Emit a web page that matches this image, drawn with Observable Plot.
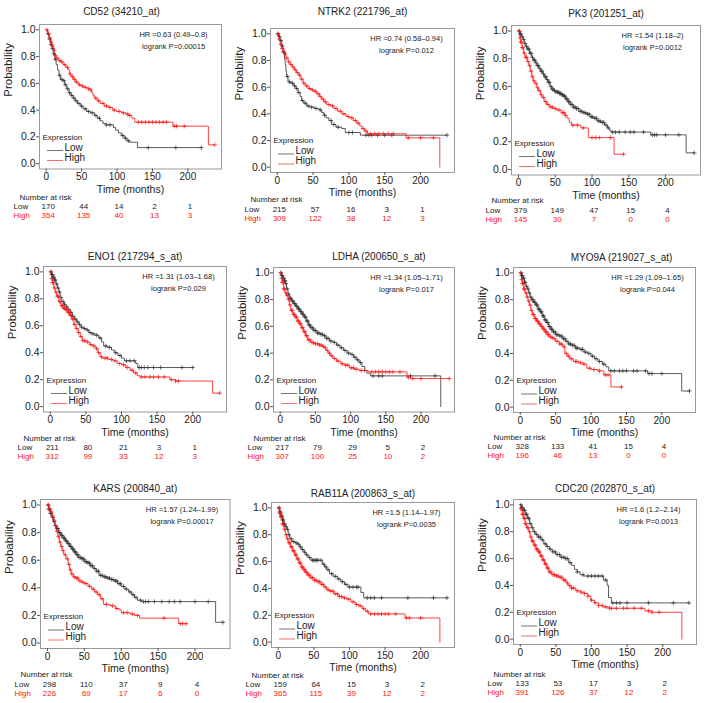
<!DOCTYPE html>
<html>
<head>
<meta charset="utf-8">
<script src="https://cdn.jsdelivr.net/npm/d3@7"></script>
<script src="https://cdn.jsdelivr.net/npm/@observablehq/plot@0.6"></script>
<style>
  html, body { margin: 0; padding: 0; background: #fff; }
  #wrap { position: relative; width: 704px; height: 703px; overflow: hidden; background: #fff; }
  .panel { position: absolute; }
</style>
</head>
<body>
<div id="wrap"></div>
<script>
// ---------- DATA ----------
const genes = ["CD52 (34210_at)", "NTRK2 (221796_at)", "PK3 (201251_at)",
               "ENO1 (217294_s_at)", "LDHA (200650_s_at)", "MYO9A (219027_s_at)",
               "KARS (200840_at)", "RAB11A (200863_s_at)", "CDC20 (202870_s_at)"];
const hrTexts = ["HR =0.63 (0.49–0.8)", "HR =0.74 (0.58–0.94)", "HR =1.54 (1.18–2)",
                 "HR =1.31 (1.03–1.68)", "HR =1.34 (1.05–1.71)", "HR =1.29 (1.09–1.65)",
                 "HR =1.57 (1.24–1.99)", "HR =1.5 (1.14–1.97)", "HR =1.6 (1.2–2.14)"];
const pTexts = ["logrank P=0.00015", "logrank P=0.012", "logrank P=0.0012",
                "logrank P=0.029", "logrank P=0.017", "logrank P=0.044",
                "logrank P=0.00017", "logrank P=0.0035", "logrank P=0.0013"];
const riskTimes = [0, 50, 100, 150, 200];
const xTicks = [0, 50, 100, 150, 200];
const yTicks = [0, 0.2, 0.4, 0.6, 0.8, 1.0];

const riskLow = [[170,44,14,2,1],[215,57,16,3,1],[379,149,47,15,4],
                 [211,80,21,3,1],[217,79,29,5,2],[328,133,41,15,4],
                 [298,110,37,9,4],[159,64,15,3,2],[133,53,17,3,2]];
const riskHigh = [[354,135,40,13,3],[309,122,38,12,3],[145,30,7,0,0],
                  [312,99,33,12,3],[307,100,25,10,2],[196,46,13,0,0],
                  [226,69,17,6,0],[365,115,39,12,2],[391,126,37,12,2]];

// Kaplan–Meier steps: [time (months), survival after step]
const cd52Low = [[0,1],[2,0.97],[4,0.93],[6,0.89],[8,0.86],[10,0.82],[12,0.78],[14,0.74],[16,0.70],[18,0.66],[20,0.63],[23,0.62],[26,0.59],[29,0.56],[32,0.53],[35,0.51],[38,0.49],[41,0.47],[44,0.45],[48,0.43],[52,0.41],[57,0.39],[62,0.38],[68,0.36],[72,0.34],[76,0.32],[80,0.30],[84,0.29],[95,0.27],[98,0.25],[102,0.23],[106,0.21],[110,0.19],[114,0.17],[118,0.16],[129,0.12],[219,0.12]];
const cd52LowCens = [3,5,7,9,11,13,19,22,25,27,30,33,36,39,42,46,50,55,60,65,70,75,85,90,108,112,116,144,183,219];
const cd52High = [[0,1],[2,0.97],[4,0.94],[6,0.91],[8,0.88],[10,0.85],[12,0.81],[14,0.79],[17,0.77],[21,0.76],[24,0.74],[28,0.72],[31,0.70],[33,0.67],[35,0.65],[38,0.63],[41,0.61],[45,0.59],[49,0.58],[53,0.57],[58,0.56],[62,0.55],[64,0.53],[66,0.51],[68,0.49],[72,0.47],[76,0.45],[82,0.43],[88,0.42],[94,0.40],[99,0.39],[106,0.38],[112,0.37],[116,0.36],[121,0.34],[125,0.31],[179,0.28],[229,0.14],[238,0.14]];
const cd52HighCens = [1,3,5,7,9,11,13,15,19,22,26,30,34,37,40,43,47,51,55,60,63,70,74,80,85,90,96,103,109,115,118,130,135,140,145,150,155,160,165,170,181,184,195,238];

const ntrk2Low = [[0,1],[2,0.98],[4,0.95],[6,0.91],[8,0.86],[10,0.81],[11,0.77],[12,0.72],[13,0.68],[15,0.64],[19,0.63],[23,0.61],[26,0.59],[29,0.56],[32,0.53],[34,0.50],[37,0.48],[41,0.46],[45,0.45],[52,0.44],[58,0.43],[62,0.41],[65,0.39],[68,0.37],[72,0.35],[76,0.32],[82,0.30],[90,0.29],[95,0.26],[116,0.24],[237,0.24]];
const ntrk2LowCens = [1,3,5,7,9,14,17,21,24,27,30,35,39,43,48,54,60,66,75,79,85,100,105,124,128,132,140,150,160,237];
const ntrk2High = [[0,1],[2,0.96],[4,0.92],[6,0.89],[8,0.87],[10,0.85],[12,0.82],[15,0.79],[18,0.77],[21,0.75],[24,0.73],[27,0.71],[30,0.69],[33,0.66],[36,0.63],[39,0.61],[43,0.59],[47,0.58],[51,0.57],[55,0.55],[59,0.53],[62,0.51],[65,0.49],[69,0.47],[74,0.46],[79,0.44],[84,0.42],[90,0.40],[96,0.38],[101,0.37],[106,0.35],[111,0.33],[115,0.31],[118,0.29],[122,0.27],[126,0.25],[180,0.22],[227,0]];
const ntrk2HighCens = [1,3,5,7,9,11,13,16,19,22,25,28,31,34,37,41,45,49,53,57,60,64,67,72,77,82,88,93,99,104,109,113,120,124,130,136,142,148,155,162,183,200,218];

const pk3Low = [[0,1],[2,0.98],[4,0.96],[6,0.94],[8,0.91],[10,0.89],[12,0.87],[15,0.84],[18,0.81],[20,0.79],[23,0.77],[25,0.75],[28,0.73],[30,0.71],[33,0.69],[35,0.67],[38,0.65],[40,0.63],[43,0.60],[45,0.58],[48,0.57],[50,0.56],[55,0.55],[58,0.54],[61,0.53],[64,0.51],[67,0.49],[70,0.47],[74,0.45],[78,0.44],[82,0.42],[87,0.41],[92,0.40],[97,0.38],[102,0.37],[107,0.35],[112,0.34],[117,0.32],[121,0.30],[124,0.28],[126,0.27],[180,0.25],[228,0.12],[239,0.12]];
const pk3LowCens = [1,2,3,5,7,9,11,13,14,16,17,19,21,22,24,26,27,29,31,32,34,36,37,39,41,42,44,46,47,49,51,53,54,56,57,59,60,62,63,65,66,68,69,71,73,75,77,79,81,84,86,89,91,94,96,99,101,104,106,109,111,114,116,119,122,128,132,137,145,152,157,170,182,185,188,200,218,239];
const pk3High = [[0,1],[2,0.95],[3,0.92],[5,0.88],[7,0.84],[9,0.81],[12,0.78],[14,0.75],[16,0.71],[18,0.67],[20,0.64],[22,0.62],[25,0.59],[27,0.57],[30,0.54],[32,0.52],[35,0.49],[38,0.47],[42,0.45],[47,0.44],[52,0.43],[58,0.41],[63,0.39],[66,0.37],[69,0.34],[72,0.32],[85,0.30],[95,0.23],[130,0.11],[143,0.11]];
const pk3HighCens = [1,2,3,4,5,6,8,10,11,13,15,17,19,21,24,26,28,31,34,37,40,44,46,50,55,60,62,64,74,80,88,100,105,110,125,143];

const eno1Low = [[0,1],[2,0.98],[4,0.96],[6,0.94],[8,0.91],[10,0.88],[12,0.85],[14,0.81],[16,0.78],[19,0.76],[22,0.74],[25,0.72],[28,0.70],[31,0.67],[34,0.65],[37,0.63],[40,0.61],[43,0.59],[46,0.58],[50,0.57],[54,0.55],[58,0.54],[63,0.53],[68,0.51],[72,0.48],[75,0.45],[80,0.44],[86,0.42],[90,0.40],[95,0.38],[100,0.36],[104,0.34],[120,0.32],[123,0.29],[200,0.29]];
const eno1LowCens = [1,2,3,4,5,6,7,9,11,13,15,18,20,23,26,29,32,35,38,41,44,48,52,56,60,65,70,78,83,92,98,107,112,118,125,128,132,137,145,155,185,200];
const eno1High = [[0,1],[2,0.95],[3,0.92],[5,0.88],[7,0.85],[9,0.82],[12,0.78],[15,0.75],[18,0.73],[21,0.72],[24,0.70],[27,0.68],[30,0.65],[33,0.61],[36,0.58],[39,0.55],[42,0.52],[45,0.49],[50,0.48],[55,0.46],[60,0.45],[64,0.43],[67,0.40],[70,0.37],[73,0.36],[82,0.35],[88,0.34],[94,0.32],[100,0.31],[106,0.29],[112,0.27],[117,0.25],[122,0.23],[126,0.22],[168,0.20],[176,0.19],[228,0.10],[238,0.10]];
const eno1HighCens = [1,2,3,4,6,8,10,11,13,14,16,17,19,20,22,23,25,26,28,29,31,34,37,40,43,46,48,52,57,61,65,68,72,77,80,86,91,97,103,108,115,120,128,133,140,145,152,160,170,176,180,238];

const ldhaLow = [[0,1],[2,0.98],[4,0.96],[6,0.94],[8,0.92],[9,0.88],[11,0.84],[13,0.81],[16,0.79],[19,0.77],[22,0.75],[25,0.73],[28,0.71],[31,0.69],[34,0.67],[37,0.64],[40,0.61],[43,0.59],[47,0.57],[52,0.55],[57,0.54],[61,0.53],[65,0.51],[70,0.49],[75,0.48],[80,0.46],[85,0.44],[90,0.42],[95,0.40],[100,0.39],[104,0.37],[108,0.35],[112,0.33],[116,0.30],[120,0.27],[123,0.25],[128,0.23],[228,0]];
const ldhaLowCens = [1,2,3,4,5,6,7,8,10,12,14,15,17,18,20,21,23,24,26,27,29,30,32,33,35,36,38,39,41,42,44,46,48,50,53,55,58,60,63,66,68,72,77,82,87,92,97,102,106,110,114,132,140,145,185,220];
const ldhaHigh = [[0,1],[2,0.96],[3,0.93],[5,0.88],[7,0.85],[9,0.83],[11,0.80],[13,0.76],[15,0.72],[18,0.69],[21,0.67],[24,0.64],[27,0.62],[30,0.59],[33,0.56],[36,0.53],[39,0.50],[43,0.48],[48,0.47],[55,0.46],[60,0.45],[63,0.44],[65,0.42],[68,0.40],[71,0.38],[75,0.36],[80,0.34],[86,0.32],[92,0.31],[98,0.29],[105,0.28],[112,0.27],[125,0.26],[180,0.22],[185,0.21],[240,0.21]];
const ldhaHighCens = [1,2,3,4,5,6,8,10,12,14,16,17,19,20,22,23,25,26,28,29,31,32,34,35,37,38,40,42,45,47,50,53,56,58,61,64,67,70,73,77,82,88,93,96,101,104,108,115,120,130,135,140,145,150,155,160,170,182,188,200,240];

const myo9aLow = [[0,1],[2,0.98],[4,0.96],[6,0.93],[8,0.90],[10,0.88],[12,0.85],[14,0.82],[16,0.80],[19,0.78],[22,0.76],[25,0.73],[28,0.71],[31,0.68],[34,0.65],[37,0.63],[40,0.60],[43,0.58],[46,0.56],[50,0.54],[55,0.53],[60,0.51],[64,0.49],[68,0.47],[73,0.46],[78,0.44],[84,0.43],[90,0.41],[95,0.40],[100,0.38],[105,0.36],[110,0.34],[116,0.32],[121,0.30],[125,0.27],[180,0.25],[228,0.12],[239,0.12]];
const myo9aLowCens = [1,2,3,4,5,6,7,9,11,13,15,17,18,20,21,23,24,26,27,29,30,32,33,35,36,38,39,41,42,44,45,47,49,51,53,56,58,61,63,66,69,71,74,76,79,81,86,88,92,97,102,107,112,118,128,133,140,145,150,160,165,177,182,186,200,239];
const myo9aHigh = [[0,1],[2,0.95],[3,0.92],[5,0.88],[7,0.85],[9,0.82],[11,0.79],[13,0.76],[15,0.72],[17,0.69],[20,0.66],[23,0.64],[26,0.62],[29,0.60],[32,0.58],[35,0.56],[38,0.54],[42,0.52],[46,0.51],[50,0.49],[55,0.47],[60,0.45],[63,0.40],[66,0.38],[70,0.36],[75,0.34],[82,0.33],[88,0.32],[94,0.29],[100,0.28],[110,0.27],[118,0.24],[128,0.15],[143,0.15]];
const myo9aHighCens = [1,2,3,4,5,6,8,10,12,14,16,18,19,21,22,24,25,27,28,30,31,33,34,36,37,39,40,43,45,48,52,56,58,62,65,68,72,78,80,85,90,98,104,112,120,124,143];

const karsLow = [[0,1],[2,0.97],[4,0.94],[6,0.91],[8,0.88],[10,0.85],[12,0.83],[15,0.80],[18,0.78],[21,0.76],[24,0.74],[27,0.72],[30,0.70],[33,0.68],[36,0.66],[39,0.64],[42,0.62],[46,0.61],[50,0.59],[54,0.58],[58,0.56],[62,0.54],[66,0.52],[70,0.49],[75,0.48],[80,0.47],[85,0.46],[90,0.45],[95,0.43],[100,0.41],[105,0.39],[110,0.37],[114,0.35],[118,0.33],[122,0.31],[128,0.30],[228,0.15],[238,0.15]];
const karsLowCens = [1,2,3,4,5,7,9,11,13,14,16,17,19,20,22,23,25,26,28,29,31,32,34,35,37,38,40,41,43,45,47,49,51,53,55,57,59,61,64,67,69,72,74,77,79,82,84,87,89,92,94,97,99,103,107,112,116,120,126,130,133,137,145,155,165,172,180,200,218,238];
const karsHigh = [[0,1],[2,0.97],[4,0.95],[6,0.92],[8,0.89],[10,0.85],[12,0.81],[14,0.77],[16,0.73],[18,0.70],[20,0.67],[22,0.64],[25,0.61],[28,0.57],[30,0.53],[32,0.50],[35,0.48],[38,0.47],[42,0.45],[46,0.44],[50,0.43],[55,0.41],[60,0.39],[64,0.37],[68,0.35],[72,0.32],[76,0.28],[85,0.27],[92,0.25],[97,0.24],[100,0.22],[112,0.21],[118,0.20],[125,0.18],[178,0.14],[188,0.14]];
const karsHighCens = [1,2,3,5,7,9,11,13,15,17,19,21,24,27,29,31,33,36,39,41,44,48,52,57,62,66,70,74,80,88,94,103,108,115,122,158,180,183,188];

const rab11aLow = [[0,1],[2,0.97],[4,0.94],[6,0.91],[8,0.88],[10,0.86],[12,0.84],[14,0.80],[16,0.77],[19,0.75],[23,0.74],[27,0.73],[30,0.71],[33,0.69],[36,0.67],[39,0.65],[42,0.63],[46,0.61],[58,0.61],[62,0.58],[65,0.56],[68,0.54],[72,0.51],[77,0.49],[83,0.47],[88,0.45],[93,0.43],[98,0.41],[116,0.37],[120,0.33],[237,0.33]];
const rab11aLowCens = [1,2,3,4,5,6,7,8,9,11,13,15,18,21,25,28,31,34,37,40,44,48,50,52,54,56,60,64,67,70,75,80,85,90,95,100,105,110,112,125,130,135,145,182,218,237];
const rab11aHigh = [[0,1],[2,0.96],[4,0.93],[6,0.88],[8,0.84],[10,0.80],[12,0.77],[14,0.74],[17,0.71],[20,0.68],[23,0.65],[26,0.62],[29,0.59],[32,0.56],[35,0.54],[38,0.52],[41,0.50],[45,0.48],[50,0.46],[55,0.45],[60,0.43],[64,0.41],[68,0.39],[72,0.38],[78,0.36],[84,0.34],[90,0.33],[96,0.32],[102,0.30],[108,0.28],[113,0.27],[118,0.25],[122,0.23],[127,0.21],[178,0.18],[227,0]];
const rab11aHighCens = [1,2,3,4,5,6,7,9,11,13,15,16,18,19,21,22,24,25,27,28,30,31,33,34,36,37,39,40,42,44,46,48,51,53,56,58,61,63,66,70,74,77,80,83,86,89,93,99,105,110,115,120,125,130,135,140,145,150,155,165,180,184,200];

const cdc20Low = [[0,1],[2,0.98],[4,0.96],[7,0.93],[10,0.90],[13,0.86],[16,0.83],[18,0.80],[21,0.78],[25,0.76],[29,0.74],[33,0.71],[37,0.69],[41,0.67],[45,0.65],[50,0.63],[56,0.61],[63,0.60],[68,0.57],[72,0.55],[76,0.52],[80,0.50],[84,0.48],[89,0.47],[117,0.44],[122,0.40],[124,0.31],[128,0.27],[237,0.27]];
const cdc20LowCens = [1,2,3,5,6,8,9,11,12,14,17,20,23,26,28,31,35,38,42,46,49,52,55,58,61,64,66,70,80,88,95,100,105,110,115,120,130,135,140,150,180,215,237];
const cdc20High = [[0,1],[1,0.97],[3,0.93],[5,0.90],[7,0.86],[9,0.83],[12,0.80],[14,0.76],[16,0.73],[19,0.70],[22,0.67],[25,0.65],[28,0.62],[31,0.59],[34,0.56],[37,0.53],[40,0.50],[44,0.48],[50,0.47],[55,0.46],[60,0.44],[64,0.42],[67,0.40],[71,0.38],[78,0.36],[85,0.35],[90,0.34],[95,0.32],[99,0.29],[104,0.27],[110,0.25],[116,0.24],[125,0.23],[175,0.21],[185,0.20],[227,0]];
const cdc20HighCens = [1,2,3,4,5,6,7,8,10,11,13,15,17,18,20,21,23,24,26,27,29,30,32,33,35,36,38,39,41,43,46,48,51,53,56,58,61,63,66,69,72,75,80,85,90,95,100,105,110,115,120,125,128,135,145,150,160,170,180,185,195];

const lowCurves = [cd52Low, ntrk2Low, pk3Low, eno1Low, ldhaLow, myo9aLow, karsLow, rab11aLow, cdc20Low];
const lowCens = [cd52LowCens, ntrk2LowCens, pk3LowCens, eno1LowCens, ldhaLowCens, myo9aLowCens, karsLowCens, rab11aLowCens, cdc20LowCens];
const highCurves = [cd52High, ntrk2High, pk3High, eno1High, ldhaHigh, myo9aHigh, karsHigh, rab11aHigh, cdc20High];
const highCens = [cd52HighCens, ntrk2HighCens, pk3HighCens, eno1HighCens, ldhaHighCens, myo9aHighCens, karsHighCens, rab11aHighCens, cdc20HighCens];

// ---------- LAYOUT (frame boxes in page pixels) ----------
const layout = [
  {L:39, R:221, T:24, B:168.5, tDx:-9, tDy:17, rDy:30.5},
  {L:270, R:454, T:28, B:172, tDx:0, tDy:20.5, rDy:29.7},
  {L:511, R:700, T:24.5, B:174, tDx:0, tDy:16, rDy:28.3},
  {L:43, R:226, T:266, B:411.5, tDx:0, tDy:14, rDy:28.5},
  {L:273, R:454, T:267, B:411.5, tDx:15, tDy:14.7, rDy:28.5},
  {L:513, R:695, T:267, B:412, tDx:17, tDy:13.7, rDy:27},
  {L:39.5, R:229, T:499, B:648, tDx:0, tDy:15, rDy:28.7},
  {L:271, R:454, T:501.5, B:646.5, tDx:0, tDy:13, rDy:30},
  {L:513, R:696, T:499, B:644, tDx:0, tDy:15, rDy:32}
];

const RED = "#ff1414";
const DARK = "#333333";
const FONT = "'Liberation Sans', Arial, Helvetica, sans-serif";

const plusSym = { draw(ctx) { const r = 2.2; ctx.moveTo(-r, 0); ctx.lineTo(r, 0); ctx.moveTo(0, -r); ctx.lineTo(0, r); } };
const hline = { draw(ctx) { ctx.moveTo(-8, 0); ctx.lineTo(8, 0); } };

function stepValue(curve, t) {
  let s = 1;
  for (const [ti, si] of curve) if (ti <= t) s = si;
  return s;
}

const wrap = document.getElementById("wrap");
const mL = 45, mT = 26, mR = 4, mB = 60;

genes.forEach((gene, i) => {
  const lay = layout[i];
  const w = lay.R - lay.L, h = lay.B - lay.T;
  const low = lowCurves[i], high = highCurves[i];
  const lowC = lowCens[i].map(t => [t, stepValue(low, t)]);
  const highC = highCens[i].map(t => [t, stepValue(high, t)]);
  const lowRisk = riskTimes.map((t, j) => ({t, v: riskLow[i][j]}));
  const highRisk = riskTimes.map((t, j) => ({t, v: riskHigh[i][j]}));

  const plot = Plot.plot({
    width: w + mL + mR,
    height: h + mT + mB,
    marginLeft: mL, marginRight: mR, marginTop: mT, marginBottom: mB,
    style: {fontFamily: FONT, fontSize: "10px", color: "#222", background: "transparent", overflow: "visible"},
    x: {domain: [-9.5, 247.5]},
    y: {domain: [-0.04, 1.04]},
    marks: [
      Plot.frame({stroke: "#999", strokeWidth: 1}),
      Plot.axisX({ticks: xTicks, tickSize: 3, tickPadding: 1, label: null, stroke: "#555", fill: "#222", fontSize: 10}),
      Plot.axisY({ticks: yTicks, tickFormat: d3.format(".1f"), tickSize: 3, tickPadding: 1, label: null, stroke: "#555", fill: "#222", fontSize: 10.5}),
      // curves
      Plot.line(low, {x: d => d[0], y: d => d[1], curve: "step-after", stroke: DARK, strokeWidth: 0.8}),
      Plot.line(high, {x: d => d[0], y: d => d[1], curve: "step-after", stroke: RED, strokeWidth: 0.8}),
      Plot.dot(lowC, {x: d => d[0], y: d => d[1], symbol: plusSym, stroke: DARK, fill: "none", strokeWidth: 0.7}),
      Plot.dot(highC, {x: d => d[0], y: d => d[1], symbol: plusSym, stroke: RED, fill: "none", strokeWidth: 0.7}),
      // title
      Plot.text([gene], {text: d => d, frameAnchor: "top", dx: lay.tDx, dy: -lay.tDy, fontSize: 10, fill: "#222"}),
      // HR text
      Plot.text([hrTexts[i]], {text: d => d, frameAnchor: "top-right", dx: -48, dy: 7.5, textAnchor: "middle", fontSize: 7.5, fill: "#222"}),
      Plot.text([pTexts[i]], {text: d => d, frameAnchor: "top-right", dx: -48, dy: 19.5, textAnchor: "middle", fontSize: 7.5, fill: "#222"}),
      // axis titles
      Plot.text(["Probability"], {text: d => d, frameAnchor: "left", dx: -31, rotate: -90, fontSize: 11.5, fill: "#222"}),
      Plot.text(["Time (months)"], {text: d => d, frameAnchor: "bottom", dy: 23.5, fontSize: 10.5, fill: "#222"}),
      // legend
      Plot.text(["Expression"], {text: d => d, frameAnchor: "bottom-left", dx: 3, dy: -29.5, textAnchor: "start", fontSize: 8, fill: "#222"}),
      Plot.dot(["Low"], {frameAnchor: "bottom-left", dx: 15.5, dy: -18.5, symbol: hline, stroke: "#777", fill: "none", strokeWidth: 1}),
      Plot.dot(["High"], {frameAnchor: "bottom-left", dx: 15.5, dy: -8.5, symbol: hline, stroke: "#ff6a6a", fill: "none", strokeWidth: 1}),
      Plot.text(["Low"], {text: d => d, frameAnchor: "bottom-left", dx: 25, dy: -18.5, textAnchor: "start", fontSize: 10, fill: "#222"}),
      Plot.text(["High"], {text: d => d, frameAnchor: "bottom-left", dx: 25, dy: -8.5, textAnchor: "start", fontSize: 10, fill: "#222"}),
      // number at risk table
      Plot.text(["Number at risk"], {text: d => d, frameAnchor: "bottom-left", dx: -20, dy: lay.rDy, textAnchor: "start", fontSize: 8, fill: "#222"}),
      Plot.text(["Low"], {text: d => d, frameAnchor: "bottom-left", dx: -26, dy: lay.rDy + 9.5, textAnchor: "start", fontSize: 8, fill: "#222"}),
      Plot.text(["High"], {text: d => d, frameAnchor: "bottom-left", dx: -26, dy: lay.rDy + 18.5, textAnchor: "start", fontSize: 8, fill: RED}),
      Plot.text(lowRisk, {x: "t", text: d => String(d.v), frameAnchor: "bottom", dx: 2, dy: lay.rDy + 9.5, fontSize: 8, fill: "#222"}),
      Plot.text(highRisk, {x: "t", text: d => String(d.v), frameAnchor: "bottom", dx: 2, dy: lay.rDy + 18.5, fontSize: 8, fill: RED})
    ]
  });

  const div = document.createElement("div");
  div.className = "panel";
  div.style.left = (lay.L - mL) + "px";
  div.style.top = (lay.T - mT) + "px";
  div.appendChild(plot);
  wrap.appendChild(div);
});
</script>
</body>
</html>
